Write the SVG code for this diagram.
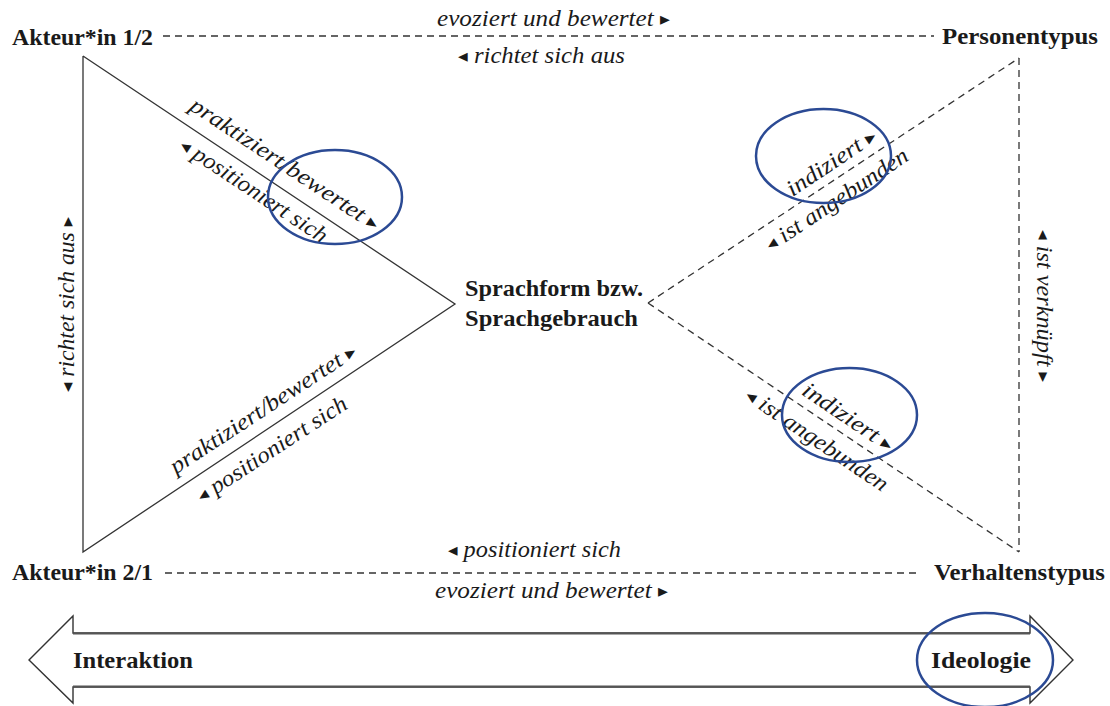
<svg xmlns="http://www.w3.org/2000/svg" width="1110" height="706" viewBox="0 0 1110 706">
<style>
.b{font-family:"Liberation Serif","DejaVu Serif",serif;font-weight:bold;font-size:24px;fill:#1a1a1a}
.i{font-family:"Liberation Serif","DejaVu Serif",serif;font-style:italic;font-size:23px;fill:#1a1a1a}
.a{font-size:18px;font-style:normal;font-family:"DejaVu Sans",sans-serif}
.s{fill:none;stroke:#333;stroke-width:1.3}
.d{fill:none;stroke:#333;stroke-width:1.3;stroke-dasharray:7 5}
.e{fill:none;stroke:#2b4a94;stroke-width:2.5}
</style>
<rect width="1110" height="706" fill="#fff"/>
<g id="connectors">
<polyline class="s" points="83,56 455,304 83,552 83,56"/>
<line class="d" x1="648" y1="303" x2="1019" y2="58"/>
<line class="d" x1="648" y1="303" x2="1019" y2="552"/>
<line class="d" x1="1019" y1="58" x2="1019" y2="552"/>
<line class="d" x1="163" y1="36" x2="934" y2="36"/>
<line class="d" x1="165" y1="573" x2="920" y2="573"/>
</g>
<g id="labels">
<text class="i" x="437" y="26" textLength="233" lengthAdjust="spacingAndGlyphs">evoziert und bewertet <tspan class="a" dy="-1">▸</tspan></text>
<text class="i" x="458" y="63" textLength="167" lengthAdjust="spacingAndGlyphs"><tspan class="a" dy="-1">◂</tspan><tspan dy="1"> richtet sich aus</tspan></text>
<text class="i" x="448" y="557" textLength="173" lengthAdjust="spacingAndGlyphs"><tspan class="a" dy="-1">◂</tspan><tspan dy="1"> positioniert sich</tspan></text>
<text class="i" x="435" y="598" textLength="233" lengthAdjust="spacingAndGlyphs">evoziert und bewertet <tspan class="a" dy="-1">▸</tspan></text>
<g transform="translate(273.2,181.9) rotate(33.5)"><text class="i" x="-111" y="-14" textLength="222" lengthAdjust="spacingAndGlyphs">praktiziert/bewertet <tspan class="a" dy="-1">▸</tspan></text></g>
<g transform="translate(263.6,175.5) rotate(33.5)"><text class="i" x="-86" y="25" textLength="172" lengthAdjust="spacingAndGlyphs"><tspan class="a" dy="-1">◂</tspan><tspan dy="1"> positioniert sich</tspan></text></g>
<g transform="translate(274.7,426.5) rotate(-33.2)"><text class="i" x="-109" y="-14" textLength="218" lengthAdjust="spacingAndGlyphs">praktiziert/bewertet <tspan class="a" dy="-1">▸</tspan></text></g>
<g transform="translate(262.1,434.7) rotate(-33.2)"><text class="i" x="-87.5" y="25" textLength="175" lengthAdjust="spacingAndGlyphs"><tspan class="a" dy="-1">◂</tspan><tspan dy="1"> positioniert sich</tspan></text></g>
<g transform="translate(839.8,175.1) rotate(-33.7)"><text class="i" x="-51.5" y="-8" textLength="103" lengthAdjust="spacingAndGlyphs">indiziert <tspan class="a" dy="-1">▸</tspan></text></g>
<g transform="translate(826.3,184.1) rotate(-33.7)"><text class="i" x="-83.5" y="26" textLength="167" lengthAdjust="spacingAndGlyphs"><tspan class="a" dy="-1">◂</tspan><tspan dy="1"> ist angebunden</tspan></text></g>
<g transform="translate(838.5,431.5) rotate(34)"><text class="i" x="-52.5" y="-10" textLength="105" lengthAdjust="spacingAndGlyphs">indiziert <tspan class="a" dy="-1">▸</tspan></text></g>
<g transform="translate(827.4,424) rotate(34)"><text class="i" x="-83.5" y="26" textLength="167" lengthAdjust="spacingAndGlyphs"><tspan class="a" dy="-1">◂</tspan><tspan dy="1"> ist angebunden</tspan></text></g>
<g transform="translate(74,304.5) rotate(-90)"><text class="i" x="-87.5" y="0" textLength="175" lengthAdjust="spacingAndGlyphs"><tspan class="a" dy="-1">◂</tspan><tspan dy="1"> richtet sich aus </tspan><tspan class="a" dy="-1">▸</tspan></text></g>
<g transform="translate(1037,306) rotate(90)"><text class="i" x="-76" y="0" textLength="152" lengthAdjust="spacingAndGlyphs"><tspan class="a" dy="-1">◂</tspan><tspan dy="1"> ist verknüpft </tspan><tspan class="a" dy="-1">▸</tspan></text></g>
</g>
<g id="node-akteur12"><text class="b" x="12" y="45" textLength="141" lengthAdjust="spacingAndGlyphs">Akteur*in 1/2</text></g>
<g id="node-akteur21"><text class="b" x="12" y="580" textLength="141" lengthAdjust="spacingAndGlyphs">Akteur*in 2/1</text></g>
<g id="node-personentypus"><text class="b" x="942" y="44" textLength="156" lengthAdjust="spacingAndGlyphs">Personentypus</text></g>
<g id="node-verhaltenstypus"><text class="b" x="934" y="580" textLength="171" lengthAdjust="spacingAndGlyphs">Verhaltenstypus</text></g>
<g id="node-sprachform"><text class="b" x="465" y="296" textLength="178" lengthAdjust="spacingAndGlyphs">Sprachform bzw.</text><text class="b" x="465" y="326" textLength="173" lengthAdjust="spacingAndGlyphs">Sprachgebrauch</text></g>
<g id="node-arrow">
<polygon fill="#fff" stroke="#333" stroke-width="1.4" points="29,660 73,616 73,633 1030,633 1030,616 1073,660 1030,703 1030,687 73,687 73,703"/>
<line x1="73" y1="633.5" x2="1030" y2="633.5" stroke="#555" stroke-width="2.2"/>
<line x1="73" y1="686.5" x2="1030" y2="686.5" stroke="#555" stroke-width="2.2"/>
<text class="b" x="73" y="668" textLength="120" lengthAdjust="spacingAndGlyphs">Interaktion</text>
<text class="b" x="931" y="668" textLength="100" lengthAdjust="spacingAndGlyphs">Ideologie</text>
</g>
<g id="annotations">
<ellipse class="e" cx="335" cy="197" rx="67" ry="47"/>
<ellipse class="e" cx="823.5" cy="156" rx="67.5" ry="47"/>
<ellipse class="e" cx="849.5" cy="415" rx="67.5" ry="47"/>
<ellipse class="e" cx="985" cy="660" rx="68" ry="47"/>
</g>
</svg>
